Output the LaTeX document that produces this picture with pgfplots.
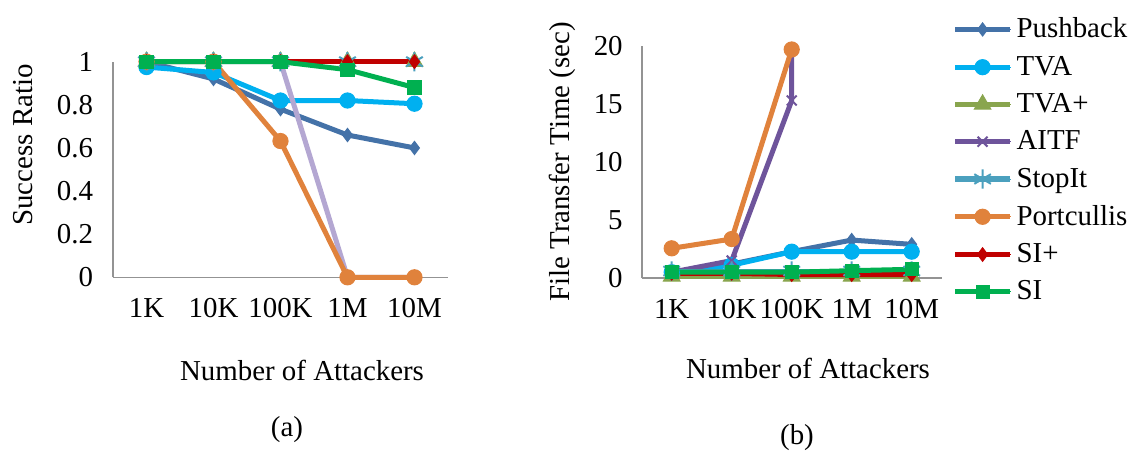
\documentclass[border=0pt]{standalone}
\usepackage{fontspec}
\setmainfont{Liberation Serif}
\usepackage{pgfplots}
\pgfplotsset{compat=1.18}
\definecolor{cPush}{RGB}{68,114,168}
\definecolor{cTVA}{RGB}{0,176,240}
\definecolor{cTVAp}{RGB}{137,165,78}
\definecolor{cAITF}{RGB}{110,84,155}
\definecolor{cAITFl}{RGB}{180,167,210}
\definecolor{cStop}{RGB}{75,160,190}
\definecolor{cPort}{RGB}{224,130,60}
\definecolor{cSIp}{RGB}{192,0,0}
\definecolor{cSI}{RGB}{0,176,80}
\newcommand\fnt{\fontsize{14.5}{17}\selectfont}
\pgfplotsset{
  base/.style={
    scale only axis, anchor=south west, clip=false,
    axis lines=left, axis line style={-, draw=gray!85, line width=0.8bp},
    major tick length=0pt,
    xmin=-0.5, xmax=4.5, xtick={0,1,2,3,4},
    xticklabels={1K,10K,100K,1M,10M},
    tick label style={font=\fnt},
    /pgf/number format/assume math mode=true,
    x tick label style={yshift=-7bp},
    every axis plot/.append style={line width=2.5bp},
  },
  sPush/.style={color=cPush, mark=diamond*, mark size=3.3bp, mark options={solid,line width=0.5bp}},
  sTVA/.style={color=cTVA, mark=*, mark size=3.8bp, mark options={solid,line width=0.5bp}},
  sTVAp/.style={color=cTVAp, mark=triangle*, mark size=4.8bp, mark options={solid,line width=0.5bp}},
  sAITF/.style={color=cAITF, mark=x, mark size=3.5bp, mark options={solid,line width=1bp}},
  sStop/.style={color=cStop, mark=asterisk, mark size=4.8bp, mark options={solid,line width=1bp}},
  sPort/.style={color=cPort, mark=*, mark size=3.8bp, mark options={solid,line width=0.5bp}},
  sSIp/.style={color=cSIp, mark=diamond*, mark size=3.4bp, mark options={solid,line width=0.5bp}},
  sSI/.style={color=cSI, mark=square*, mark size=3.3bp, mark options={solid,line width=0.5bp}},
}
\begin{document}
\begin{tikzpicture}
\useasboundingbox (0,0) rectangle (566bp,227.5bp);
% (a)
\begin{axis}[base, at={(56.5bp,88.85bp)}, width=167.5bp, height=107.8bp,
  ymin=0, ymax=1, ytick={0,0.2,0.4,0.6,0.8,1},
  yticklabels={0,0.2,0.4,0.6,0.8,1},
  y tick label style={xshift=-6.5bp}]
\addplot[sPush] coordinates {(0,1) (1,0.92) (2,0.78) (3,0.66) (4,0.60)};
\addplot[sTVA] coordinates {(0,0.975) (1,0.95) (2,0.82) (3,0.82) (4,0.805)};
\addplot[sTVAp] coordinates {(0,1) (1,1) (2,1) (3,1) (4,1)};
\addplot[sAITF, color=cAITFl, mark options={draw=cAITF}] coordinates {(0,1) (1,1) (2,1) (3,0) (4,0)};
\addplot[sStop] coordinates {(0,1) (1,1) (2,1) (3,1) (4,1)};
\addplot[sPort] coordinates {(0,1) (1,1) (2,0.632) (3,0) (4,0)};
\addplot[sSIp] coordinates {(0,1) (1,1) (2,1) (3,1) (4,1)};
\addplot[sSI] coordinates {(0,1) (1,1) (2,1) (3,0.963) (4,0.88)};
\end{axis}
% (b)
\begin{axis}[base, at={(320.85bp,88.5bp)}, width=150bp, height=116bp,
  ymin=0, ymax=20, ytick={0,5,10,15,20},
  y tick label style={xshift=-6bp},
  legend cell align=left,
  legend image code/.code={\draw[line width=2.5bp] (0bp,0bp) -- (27.5bp,0bp);
     \draw[mark repeat=2, mark phase=2, line width=0bp] plot coordinates {(0bp,0bp)(13.75bp,0bp)(27.5bp,0bp)};},
  legend style={draw=none, fill=none, font=\fnt, at={(1.035,1.14)}, anchor=north west,
    row sep=3.6bp, inner sep=0pt, nodes={inner sep=2bp}}]
\addplot[sPush] coordinates {(0,0.5) (1,1.2) (2,2.27) (3,3.27) (4,2.9)};
\addlegendentry{Pushback}
\addplot[sTVA] coordinates {(0,0.5) (1,1.1) (2,2.27) (3,2.27) (4,2.27)};
\addlegendentry{TVA}
\addplot[sTVAp] coordinates {(0,0.15) (1,0.15) (2,0.15) (3,0.15) (4,0.15)};
\addlegendentry{TVA+}
\addplot[sAITF] coordinates {(0,0.5) (1,1.5) (2,15.3) (2,19.7)};
\addlegendentry{AITF}
\addplot[sStop] coordinates {(0,0.6) (1,0.6) (2,0.6) (3,0.6) (4,0.6)};
\addlegendentry{StopIt}
\addplot[sPort] coordinates {(0,2.56) (1,3.36) (2,19.7)};
\addlegendentry{Portcullis}
\addplot[sSIp] coordinates {(0,0.4) (1,0.4) (2,0.3) (3,0.3) (4,0.3)};
\addlegendentry{SI+}
\addplot[sSI] coordinates {(0,0.5) (1,0.5) (2,0.5) (3,0.63) (4,0.75)};
\addlegendentry{SI}
\end{axis}
\node[font=\fnt, rotate=90] at (11.5bp,155bp) {Success Ratio};
\node[font=\fnt] at (151bp,42.5bp) {Number of Attackers};
\node[font=\fnt] at (143.5bp,12.5bp) {(a)};
\node[font=\fnt, rotate=90] at (281bp,146.5bp) {File Transfer Time (sec)};
\node[font=\fnt] at (404bp,43.5bp) {Number of Attackers};
\node[font=\fnt] at (398.5bp,8.5bp) {(b)};
\end{tikzpicture}
\end{document}
